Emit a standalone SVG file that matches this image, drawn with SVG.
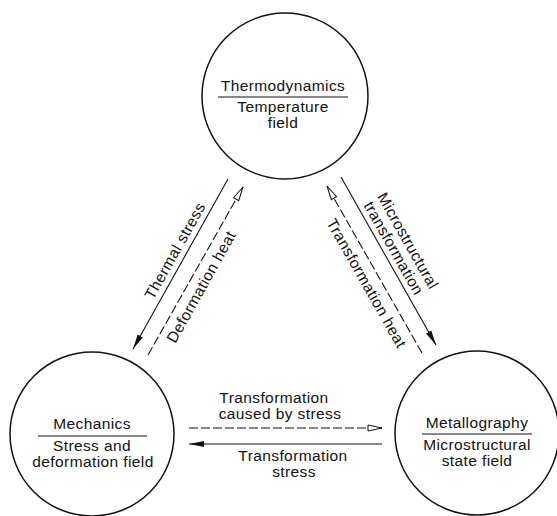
<svg xmlns="http://www.w3.org/2000/svg" width="557" height="516" viewBox="0 0 557 516">
<style>
text{font-family:"Liberation Sans",Arial,sans-serif;font-size:15.5px;letter-spacing:0.4px;fill:#111;text-anchor:middle}
.node circle{fill:#fff;stroke:#111;stroke-width:1.5}
.rule{stroke:#111;stroke-width:1.2}
.solid{stroke:#111;stroke-width:1.1;fill:none}
.dash{stroke:#111;stroke-width:1.1;fill:none;stroke-dasharray:9 3}
</style>
<defs>
<marker id="fill" markerWidth="16" markerHeight="8" refX="15" refY="3.5" orient="auto" markerUnits="userSpaceOnUse"><path d="M0,0.5 L15,3.5 L0,6.5 z" fill="#111"/></marker>
<marker id="open" markerWidth="16" markerHeight="10" refX="15" refY="4.5" orient="auto" markerUnits="userSpaceOnUse"><path d="M1,1.5 L15,4.5 L1,7.5 z" fill="#fff" stroke="#111" stroke-width="1"/></marker>
</defs>
<rect width="557" height="516" fill="#fff"/>
<g id="connectors">
<path class="solid" d="M228,179 L133,349" marker-end="url(#fill)"/>
<path class="dash" d="M148,355 L243,187" marker-end="url(#open)"/>
<path class="solid" d="M341,177 L436,345" marker-end="url(#fill)"/>
<path class="dash" d="M422,353 L327,186" marker-end="url(#open)"/>
<path class="dash" d="M189,428 H382" marker-end="url(#open)"/>
<path class="solid" d="M382,444 H189" marker-end="url(#fill)"/>
<text transform="translate(180.5,264) rotate(-60.8)" x="9" y="-6">Thermal stress</text>
<text transform="translate(195.5,271) rotate(-60.8)" x="-11" y="18">Deformation heat</text>
<text transform="translate(388.5,261) rotate(60.5)" x="-8" y="-21.5">Microstructural</text>
<text transform="translate(388.5,261) rotate(60.5)" x="-8.6" y="-5.5">transformation</text>
<text transform="translate(374.5,269.5) rotate(60.5)" x="8" y="19">Transformation heat</text>
<text x="274" y="403">Transformation</text>
<text x="280" y="419">caused by stress</text>
<text x="293" y="461">Transformation</text>
<text x="294" y="477">stress</text>
</g>
<g id="thermodynamics" class="node">
<circle cx="285" cy="96" r="83"/>
<text x="283" y="91">Thermodynamics</text>
<line class="rule" x1="218" y1="97" x2="348" y2="97"/>
<text x="283" y="112">Temperature</text>
<text x="283" y="128">field</text>
</g>
<g id="mechanics" class="node">
<circle cx="92" cy="434" r="82"/>
<text x="92" y="429">Mechanics</text>
<line class="rule" x1="38" y1="436" x2="147" y2="436"/>
<text x="92" y="451">Stress and</text>
<text x="93" y="467">deformation field</text>
</g>
<g id="metallography" class="node">
<circle cx="477" cy="433" r="82"/>
<text x="477" y="428">Metallography</text>
<line class="rule" x1="422" y1="434" x2="532" y2="434"/>
<text x="477" y="450">Microstructural</text>
<text x="477" y="466">state field</text>
</g>
</svg>
